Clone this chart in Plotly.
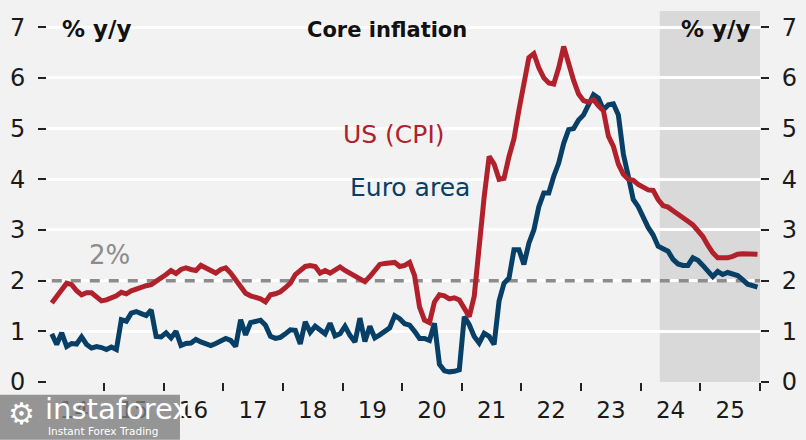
import plotly.graph_objects as go

# Monthly core inflation, % y/y, Feb 2014 .. Dec 2025
start_year = 2014
start_month = 2  # February

us_cpi = [
    1.56, 1.68, 1.80, 1.95, 1.92, 1.80, 1.72, 1.76, 1.76, 1.68, 1.60,          # 2014 (Feb-Dec)
    1.62, 1.66, 1.70, 1.77, 1.74, 1.80, 1.84, 1.88, 1.90, 1.92, 1.98, 2.05,    # 2015
    2.12, 2.20, 2.14, 2.22, 2.25, 2.22, 2.20, 2.30, 2.25, 2.20, 2.15, 2.22,    # 2016
    2.25, 2.15, 2.02, 1.85, 1.75, 1.70, 1.68, 1.64, 1.58, 1.72, 1.74, 1.78,    # 2017
    1.86, 1.95, 2.12, 2.20, 2.28, 2.30, 2.28, 2.15, 2.20, 2.15, 2.22, 2.27,    # 2018
    2.20, 2.15, 2.10, 2.05, 1.98, 2.08, 2.22, 2.32, 2.34, 2.35, 2.36, 2.28,    # 2019
    2.30, 2.36, 2.10, 1.48, 1.22, 1.17, 1.58, 1.72, 1.70, 1.64, 1.66, 1.62,    # 2020
    1.43, 1.29, 1.69, 2.80, 3.65, 4.45, 4.30, 4.00, 4.02, 4.45, 4.80, 5.37,    # 2021
    5.95, 6.40, 6.48, 6.20, 6.00, 5.90, 5.88, 6.20, 6.62, 6.25, 5.95, 5.68,    # 2022
    5.55, 5.52, 5.57, 5.45, 5.35, 4.85, 4.65, 4.30, 4.10, 4.00, 3.98, 3.90,    # 2023
    3.85, 3.79, 3.78, 3.60, 3.48, 3.45, 3.38, 3.30, 3.23, 3.17, 3.10, 3.00,    # 2024
    2.87, 2.70, 2.55, 2.45, 2.45, 2.45, 2.48, 2.52, 2.53, 2.53, 2.53, 2.52,    # 2025
]

euro_area = [
    0.95, 0.74, 0.97, 0.70, 0.76, 0.75, 0.89, 0.74, 0.67, 0.70, 0.68,          # 2014 (Feb-Dec)
    0.64, 0.69, 0.64, 1.23, 1.20, 1.36, 1.39, 1.35, 1.31, 1.42, 0.90, 0.89,    # 2015
    0.97, 0.87, 1.00, 0.72, 0.76, 0.77, 0.84, 0.79, 0.76, 0.72, 0.76, 0.81,    # 2016
    0.86, 0.82, 0.70, 1.23, 0.93, 1.17, 1.20, 1.22, 1.12, 0.90, 0.86, 0.88,    # 2017
    0.95, 1.03, 1.02, 0.75, 1.19, 0.98, 1.10, 1.02, 0.95, 1.16, 0.91, 0.95,    # 2018
    1.10, 0.92, 0.79, 1.26, 0.80, 1.10, 0.87, 0.93, 1.00, 1.07, 1.31, 1.25,    # 2019
    1.15, 1.12, 1.00, 0.86, 0.86, 0.82, 1.16, 0.35, 0.22, 0.20, 0.21, 0.24,    # 2020
    1.29, 1.13, 0.90, 0.77, 0.96, 0.90, 0.74, 1.60, 1.95, 2.05, 2.61, 2.61,    # 2021
    2.32, 2.74, 3.00, 3.46, 3.73, 3.73, 4.06, 4.32, 4.71, 4.98, 5.00, 5.17,    # 2022
    5.27, 5.50, 5.67, 5.60, 5.37, 5.47, 5.49, 5.27, 4.50, 4.06, 3.60, 3.46,    # 2023
    3.25, 3.05, 2.90, 2.68, 2.63, 2.58, 2.42, 2.33, 2.30, 2.30, 2.45, 2.40,    # 2024
    2.30, 2.17, 2.08, 2.18, 2.12, 2.16, 2.14, 2.10, 2.02, 1.93, 1.90, 1.87,    # 2025
]

year_labels = ["14", "15", "16", "17", "18", "19", "20", "21", "22", "23", "24", "25"]
y_ticks = [0, 1, 2, 3, 4, 5, 6, 7]
target = 2.0
shade_start = 2024.32   # shaded (forecast) period start, in years
x_min, x_max = 2014.045, 2026.0
y_min, y_max = 0, 7.32

# decimal-year position at mid-month
x = [start_year + (start_month - 1 + i + 0.5) / 12 for i in range(len(us_cpi))]

RED = "#b1212b"
BLUE = "#073f66"
GREY = "#8c8c8c"
BG = "#f2f2f2"
FONT = "DejaVu Sans"

fig = go.Figure()

# invisible trace to bring the right y axis to life
fig.add_trace(go.Scatter(x=[x_min, x_max], y=[y_min, y_max], yaxis="y2", mode="lines",
                         line=dict(width=0), hoverinfo="skip", showlegend=False))

fig.add_trace(go.Scatter(x=x, y=euro_area, mode="lines", name="Euro area",
                         line=dict(color=BLUE, width=5), showlegend=False))
fig.add_trace(go.Scatter(x=x, y=us_cpi, mode="lines", name="US (CPI)",
                         line=dict(color=RED, width=5), showlegend=False))

# shaded period
fig.add_shape(type="rect", xref="x", yref="y domain", x0=shade_start, x1=x_max, y0=0, y1=1,
              fillcolor="#d9d9d9", line=dict(width=0), layer="below")
# 2% target line (above the grid, below the series)
fig.add_shape(type="line", xref="x", yref="y", x0=x[0], x1=x_max, y0=target, y1=target,
              line=dict(color=GREY, width=3.5, dash="10px,9px"), layer="between")

axis_y = dict(range=[y_min, y_max], tickvals=y_ticks, ticks="outside", ticklen=8, tickwidth=2,
              tickcolor="#222", tickfont=dict(family=FONT, size=24, color="#1a1a1a"),
              showline=False, zeroline=False, fixedrange=True, automargin=False)

fig.update_layout(
    width=806, height=440,
    margin=dict(l=47, r=46, t=11, b=58, autoexpand=False),
    paper_bgcolor=BG, plot_bgcolor=BG,
    showlegend=False,
    xaxis=dict(range=[x_min, x_max], automargin=False,
               tickvals=[2014.5 + i for i in range(len(year_labels))], ticktext=year_labels,
               ticks="", showgrid=False, zeroline=False, showline=False,
               tickfont=dict(family=FONT, size=23, color="#1a1a1a"),
               ticklabelstandoff=12,
               minor=dict(tickvals=list(range(2015, 2027)), ticks="outside", ticklen=8,
                          tickwidth=2, tickcolor="#222", showgrid=False)),
    yaxis=dict(**axis_y, showgrid=True, gridcolor="white", gridwidth=2.5, ticklabelstandoff=8),
    yaxis2=dict(**axis_y, overlaying="y", side="right", showgrid=False, ticklabelstandoff=8),
)

head_font = dict(family=FONT, size=23, color="#111111", weight="bold")
fig.add_annotation(x=2014.26, y=6.97, text="% y/y", showarrow=False, xanchor="left",
                   yanchor="middle", font=head_font)
fig.add_annotation(x=2025.86, y=6.97, text="% y/y", showarrow=False, xanchor="right",
                   yanchor="middle", font=head_font)
fig.add_annotation(x=2019.745, y=6.95, text="Core inflation", showarrow=False,
                   xanchor="center", yanchor="middle",
                   font=dict(family=FONT, size=21, color="#111111", weight="bold"))
fig.add_annotation(x=2019.86, y=4.88, text="US (CPI)", showarrow=False, xanchor="center",
                   yanchor="middle", font=dict(family=FONT, size=25, color=RED))
fig.add_annotation(x=2020.13, y=3.83, text="Euro area", showarrow=False, xanchor="center",
                   yanchor="middle", font=dict(family=FONT, size=25, color=BLUE))
fig.add_annotation(x=2015.085, y=2.51, text="2%", showarrow=False, xanchor="center",
                   yanchor="middle", font=dict(family=FONT, size=26, color=GREY))

# watermark box (bottom-left)
fig.add_shape(type="rect", xref="paper", yref="paper", x0=-0.0659, x1=0.1865, y0=-0.1554, y1=-0.0342,
              fillcolor="rgba(125,125,125,0.8)", line=dict(width=0), layer="above")
fig.add_annotation(xref="paper", yref="paper", x=-0.058, y=-0.085, text="⚙", showarrow=False,
                   xanchor="left", yanchor="middle", font=dict(family=FONT, size=30, color="white"))
fig.add_annotation(xref="paper", yref="paper", x=-0.005, y=-0.074, text="instaforex", showarrow=False,
                   xanchor="left", yanchor="middle", font=dict(family=FONT, size=29, color="white"))
fig.add_annotation(xref="paper", yref="paper", x=-0.001, y=-0.132, text="Instant Forex Trading",
                   showarrow=False, xanchor="left", yanchor="middle",
                   font=dict(family=FONT, size=10.5, color="white"))

fig.write_html("out.html", config={"displayModeBar": False},
               post_script="document.body.style.margin='0';document.body.style.background='#f2f2f2';")
